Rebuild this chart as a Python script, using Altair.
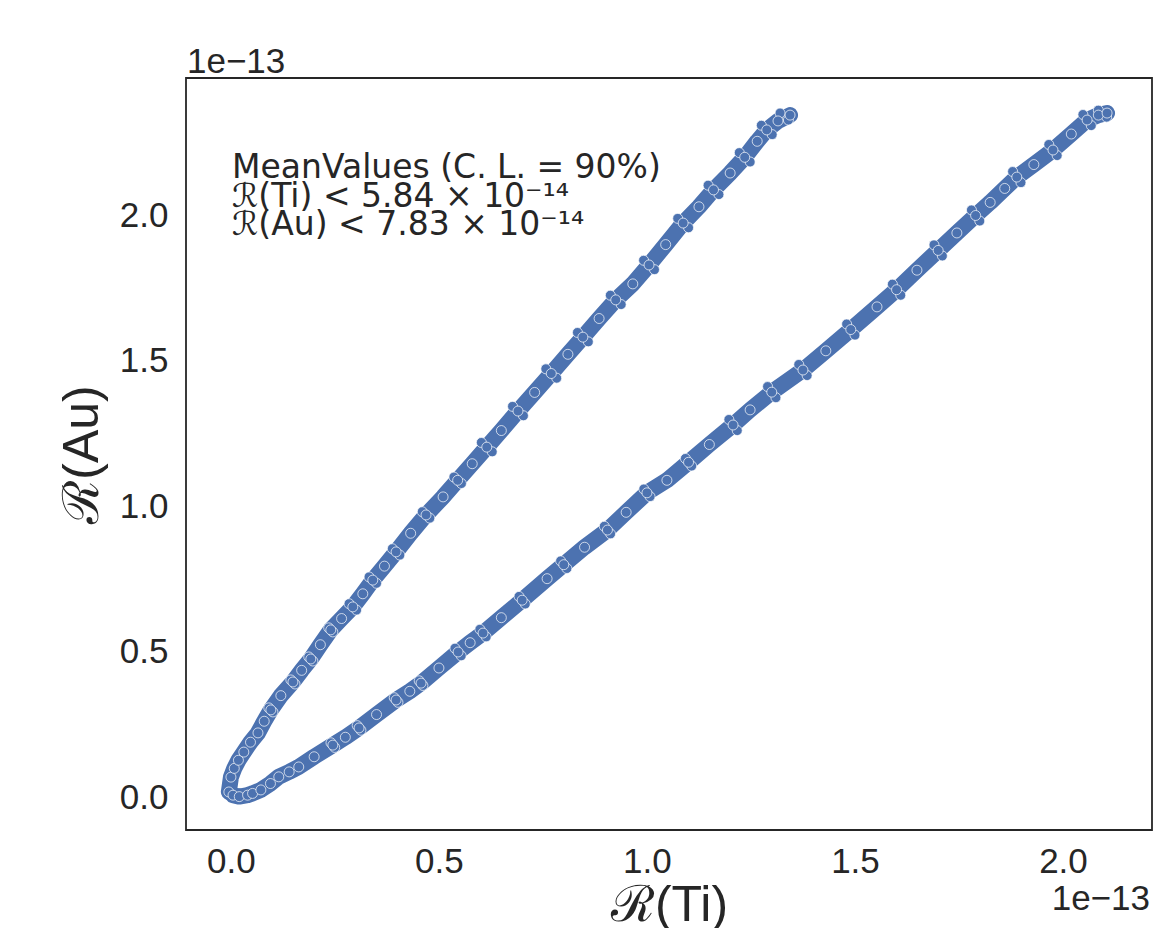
import altair as alt
import pandas as pd

# values in units of 1e-13
upper_x = [-0.005, 0.000, 0.008, 0.018, 0.031, 0.047, 0.065, 0.080, 0.096, 0.120, 0.149, 0.170,
           0.192, 0.215, 0.240, 0.266, 0.293, 0.317, 0.341, 0.369, 0.397, 0.432, 0.469, 0.510,
           0.545, 0.580, 0.615, 0.650, 0.690, 0.730, 0.770, 0.810, 0.846, 0.885, 0.925, 0.966,
           1.005, 1.045, 1.087, 1.125, 1.160, 1.200, 1.235, 1.265, 1.288, 1.315, 1.344]
upper_y = [0.019, 0.070, 0.100, 0.128, 0.156, 0.190, 0.222, 0.262, 0.301, 0.350, 0.397, 0.437,
           0.476, 0.525, 0.576, 0.615, 0.655, 0.700, 0.747, 0.795, 0.844, 0.908, 0.971, 1.033,
           1.090, 1.147, 1.204, 1.261, 1.328, 1.392, 1.457, 1.523, 1.582, 1.646, 1.710, 1.765,
           1.830, 1.900, 1.974, 2.030, 2.088, 2.146, 2.200, 2.255, 2.294, 2.325, 2.345]

upper_edge_a_x = [0.091, 0.144, 0.187, 0.235, 0.284, 0.332, 0.388, 0.460, 0.536, 0.602, 0.677,
                  0.757, 0.833, 0.912, 0.992, 1.074, 1.147, 1.222, 1.275, 1.320]
upper_edge_a_y = [0.308, 0.404, 0.483, 0.583, 0.666, 0.758, 0.855, 0.982, 1.101, 1.220, 1.344,
                  1.473, 1.598, 1.726, 1.846, 1.990, 2.104, 2.216, 2.310, 2.352]
upper_edge_b_x = [0.101, 0.154, 0.197, 0.245, 0.302, 0.350, 0.406, 0.478, 0.554, 0.628, 0.703,
                  0.783, 0.859, 0.938, 1.018, 1.100, 1.173, 1.248, 1.301, 1.340]
upper_edge_b_y = [0.294, 0.390, 0.469, 0.569, 0.644, 0.736, 0.833, 0.960, 1.079, 1.188, 1.312,
                  1.441, 1.566, 1.694, 1.814, 1.958, 2.072, 2.184, 2.278, 2.328]

lower_x = [0.005, 0.020, 0.040, 0.052, 0.072, 0.095, 0.115, 0.140, 0.163, 0.200, 0.245, 0.275,
           0.308, 0.350, 0.397, 0.430, 0.457, 0.500, 0.546, 0.575, 0.606, 0.650, 0.700, 0.760,
           0.800, 0.850, 0.905, 0.950, 1.000, 1.048, 1.100, 1.150, 1.207, 1.248, 1.300, 1.375,
           1.430, 1.490, 1.553, 1.600, 1.649, 1.700, 1.745, 1.790, 1.825, 1.860, 1.889, 1.930,
           1.976, 2.020, 2.058, 2.085, 2.106]
lower_y = [0.008, 0.003, 0.008, 0.014, 0.026, 0.048, 0.071, 0.088, 0.105, 0.140, 0.180, 0.207,
           0.239, 0.285, 0.335, 0.365, 0.393, 0.445, 0.500, 0.532, 0.565, 0.618, 0.678, 0.752,
           0.800, 0.860, 0.919, 0.980, 1.047, 1.090, 1.152, 1.213, 1.280, 1.332, 1.393, 1.469,
           1.535, 1.608, 1.686, 1.745, 1.812, 1.880, 1.940, 2.000, 2.045, 2.093, 2.132, 2.175,
           2.225, 2.280, 2.328, 2.345, 2.352]

lower_edge_a_x = [0.2405, 0.3035, 0.3925, 0.4525, 0.5385, 0.5985, 0.6925, 0.7925, 0.8975, 0.9925,
                  1.0925, 1.197, 1.290, 1.365, 1.480, 1.590, 1.690, 1.780, 1.879, 1.966, 2.048, 2.085]
lower_edge_a_y = [0.188, 0.247, 0.343, 0.401, 0.513, 0.578, 0.691, 0.813, 0.932, 1.060,
                  1.165, 1.299, 1.412, 1.488, 1.627, 1.764, 1.899, 2.019, 2.151, 2.244, 2.347, 2.362]
lower_edge_b_x = [0.2495, 0.3125, 0.4015, 0.4615, 0.5535, 0.6135, 0.7075, 0.8075, 0.9125, 1.0075,
                  1.1075, 1.217, 1.310, 1.385, 1.500, 1.610, 1.710, 1.800, 1.899, 1.986, 2.068, 2.105]
lower_edge_b_y = [0.172, 0.231, 0.327, 0.385, 0.487, 0.552, 0.665, 0.787, 0.906, 1.034,
                  1.139, 1.261, 1.374, 1.450, 1.589, 1.726, 1.861, 1.981, 2.113, 2.206, 2.309, 2.338]

x_ticks = [0.0, 0.5, 1.0, 1.5, 2.0]
y_ticks = [0.0, 0.5, 1.0, 1.5, 2.0]

annotation = [
    "MeanValues (C. L. = 90%)",
    "ℛ(Ti) < 5.84 × 10⁻¹⁴",
    "ℛ(Au) < 7.83 × 10⁻¹⁴",
]

# band core (the densely packed centre of each cloud)
center = pd.concat([
    pd.DataFrame({"ti": upper_x, "au": upper_y, "branch": "upper",
                  "ord": list(range(len(upper_x)))}),
    pd.DataFrame({"ti": lower_x, "au": lower_y, "branch": "lower",
                  "ord": list(range(len(lower_x)))}),
])

xs = upper_edge_a_x + upper_edge_b_x + lower_edge_a_x + lower_edge_b_x + upper_x + lower_x
ys = upper_edge_a_y + upper_edge_b_y + lower_edge_a_y + lower_edge_b_y + upper_y + lower_y
df = pd.DataFrame({"ti": xs, "au": ys})

W, H = 966, 752
TXT = "#262626"
BLUE = "#4C72B0"

x_enc = alt.X("ti:Q", scale=alt.Scale(domain=[-0.108, 2.214], nice=False, zero=False),
              axis=alt.Axis(values=x_ticks, format=".1f", title="ℛ(Ti)",
                            labelFont="Liberation Sans", labelFontSize=35, labelColor=TXT,
                            labelPadding=14, ticks=False, tickSize=0, domain=False, grid=False,
                            titleFont="Liberation Sans", titleFontSize=50, titleColor=TXT,
                            titleFontWeight="normal", titleX=483, titleY=90,
                            titleBaseline="alphabetic", titleAlign="center"))
y_enc = alt.Y("au:Q", scale=alt.Scale(domain=[-0.1117, 2.4725], nice=False, zero=False),
              axis=alt.Axis(values=y_ticks, format=".1f", title="ℛ(Au)",
                            labelFont="Liberation Sans", labelFontSize=35, labelColor=TXT,
                            labelPadding=18, ticks=False, tickSize=0, domain=False, grid=False,
                            titleFont="Liberation Sans", titleFontSize=50, titleColor=TXT,
                            titleFontWeight="normal", titleX=-104, titleY=376, titleAngle=270,
                            titleBaseline="middle", titleAlign="center"))

core = alt.Chart(center).mark_line(
    color=BLUE, strokeWidth=16, strokeCap="round", strokeJoin="round"
).encode(x=x_enc, y=y_enc, detail="branch:N", order="ord:Q")

points = alt.Chart(df).mark_circle(
    size=100, color=BLUE, opacity=1, stroke="white", strokeWidth=0.7
).encode(x="ti:Q", y="au:Q")

note = alt.Chart(pd.DataFrame({"k": [0]})).mark_text(
    align="left", baseline="alphabetic", font="DejaVu Sans", fontSize=33,
    lineHeight=28.5, color=TXT
).encode(x=alt.value(46), y=alt.value(100), text=alt.value(annotation))

offset_top = alt.Chart(pd.DataFrame({"k": [0]})).mark_text(
    align="left", baseline="alphabetic", font="Liberation Sans", fontSize=35, color=TXT
).encode(x=alt.value(1), y=alt.value(-5), text=alt.value("1e−13"))

offset_bottom = alt.Chart(pd.DataFrame({"k": [0]})).mark_text(
    align="right", baseline="alphabetic", font="Liberation Sans", fontSize=35, color=TXT
).encode(x=alt.value(964), y=alt.value(832), text=alt.value("1e−13"))

chart = alt.layer(core, points, note, offset_top, offset_bottom).properties(
    width=W, height=H,
    autosize=alt.AutoSizeParams(type="none"),
    padding={"left": 186, "top": 78, "right": 14, "bottom": 98},
    background="white",
).configure_view(stroke="#262626", strokeWidth=1.8)

chart.save("out.html", embed_options={"renderer": "svg", "actions": False})
